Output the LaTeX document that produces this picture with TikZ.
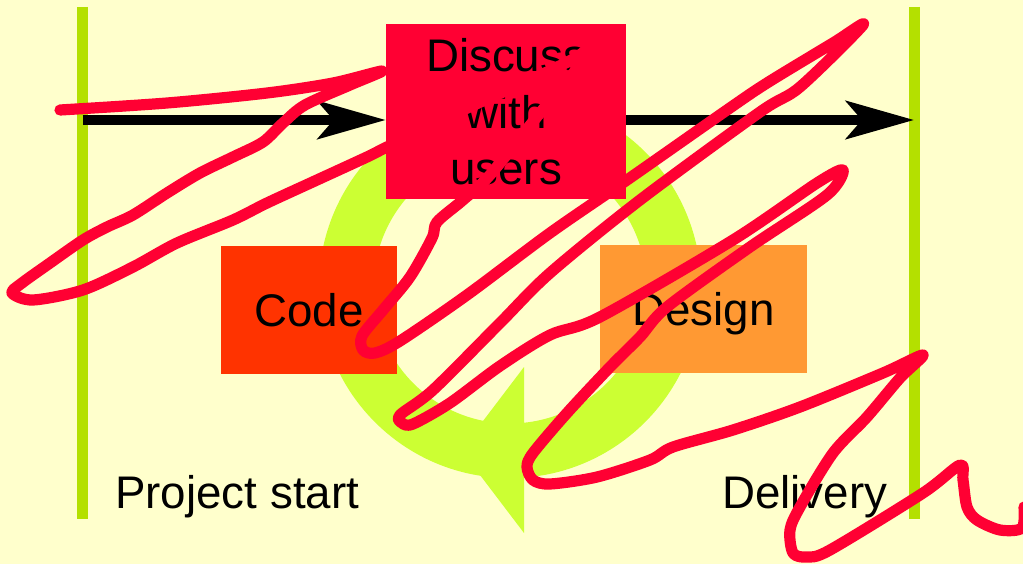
\documentclass[tikz,border=0pt]{standalone}
\usepackage{fontspec}
\setmainfont{Liberation Sans}
\usepackage{tikz}
\usepackage{xcolor}
\usetikzlibrary{arrows.meta}
\definecolor{paper}{RGB}{255,255,204}
\definecolor{railgreen}{RGB}{180,224,0}
\definecolor{ringgreen}{RGB}{204,255,51}
\definecolor{discussred}{RGB}{255,0,51}
\definecolor{codered}{RGB}{255,51,0}
\definecolor{designorange}{RGB}{255,153,51}
\definecolor{inkred}{RGB}{255,0,51}

\begin{document}
\begin{tikzpicture}[x=0.025cm, y=-0.025cm,
    rail/.style={railgreen, line width=0.275cm},
    flow/.style={line width=0.25cm, -{Stealth[length=1.7cm, width=0.95cm, inset=0.4cm]}},
    phase/.style={rectangle, inner sep=0pt, minimum height=3.2cm, text depth=0pt,
        font=\fontsize{32.5}{40.2}\selectfont},
    caption/.style={anchor=base west, inner sep=0pt, font=\fontsize{32.5}{40.2}\selectfont},
    scribble/.style={inkred, line width=0.28cm, line cap=round, line join=round}]
    % Page and its margins
    \fill[paper] (0,0) rectangle (1023,564);
    \useasboundingbox (0,0) rectangle (1023,564);

    % Start and delivery rails
    \coordinate (startTop) at (82.5,7);
    \coordinate (startBot) at (82.5,519);
    \coordinate (endTop) at (914,7);
    \coordinate (endBot) at (914,519);
    \draw[rail] (startTop) -- (startBot);
    \draw[rail] (endTop) -- (endBot);

    % Iteration ring with its head at the bottom
    \fill[ringgreen, even odd rule] (510,287) circle[radius=4.775cm] (510,287) circle[radius=3.41cm];
    \fill[ringgreen] (524,367) -- (524,533) -- (461,450) -- cycle;

    % Phase boxes
    \node[phase, fill=discussred, minimum width=6cm, minimum height=4.375cm, align=center] (discuss) at (506,111.5) {Discuss\\with\\users};
    \node[phase, fill=codered, minimum width=4.4cm] (code) at (309,310) {Code};
    \node[phase, fill=designorange, minimum width=5.175cm] (design) at (703.5,309) {Design};

    % Time line
    \coordinate (flowStart) at (82.5,120);
    \draw[flow] (flowStart) -- (discuss.west |- flowStart);
    \draw[flow] (discuss.east |- flowStart) -- (endTop |- flowStart);

    % Rail captions
    \node[caption] (start) at (115,508) {Project start};
    \node[caption] (delivery) at (722,508) {Delivery};

    % Crossing-out stroke
    \draw[scribble] plot[smooth, tension=0.5] coordinates {
        (60,110) (167,103) (267,93) (333,83) (382,71)
        (350,85) (305,105) (283,123) (263,142) (233,157) (200,173) (167,193)
        (133,215) (107,227) (83,240) (50,263) (22,283) (12,293) (33,300)
        (83,290) (133,267) (177,243) (233,220) (267,203) (317,180) (367,157)
        (387,147) (463,110) (530,80) (575,58) (597,42) (580,65) (540,113)
        (490,175) (463,200) (437,222) (432,238) (410,277) (383,310) (362,336)
        (363,350) (375,353) (400,341) (467,295) (550,233) (627,180) (727,110)
        (767,83) (833,43) (863,25) (800,87) (760,112) (640,200) (550,273)
        (500,323) (433,390) (400,415) (402,423) (413,424) (450,403) (500,366)
        (550,335) (600,317) (733,240) (817,183) (843,170) (827,195) (750,247)
        (667,307) (640,337) (610,367) (567,413) (533,453) (527,467) (533,480)
        (550,484) (597,477) (650,460) (673,447) (733,430) (800,407) (883,373)
        (923,355) (900,378) (867,417) (833,453) (800,507) (790,530) (793,553)
        (807,557) (830,550) (923,493) (960,465) (963,480) (967,507) (977,520)
        (1000,530) (1022,528) (1024,507)};
\end{tikzpicture}
\end{document}
